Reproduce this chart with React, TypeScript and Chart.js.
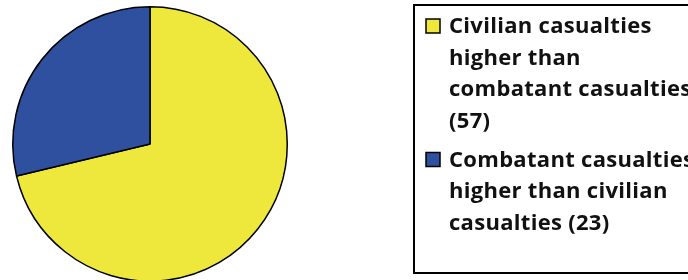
import React, { useEffect, useRef } from "react";
import { Chart, registerables } from "chart.js";

Chart.register(...registerables);

const categories: string[][] = [
  ["Civilian casualties", "higher than", "combatant casualties"],
  ["Combatant casualties", "higher than civilian", "casualties"],
];
const values: number[] = [57, 23];
const colors: string[] = ["#EEE83D", "#2E509F"];

const FONT = "700 22px 'Open Sans'";

const legendPlugin = {
  id: "boxLegend",
  afterDraw(chart: any) {
    const ctx = chart.ctx as CanvasRenderingContext2D;
    ctx.save();
    ctx.lineWidth = 2;
    ctx.strokeStyle = "#000";
    ctx.strokeRect(414, 5, 300, 268);
    ctx.font = FONT;
    (ctx as any).letterSpacing = "0.3px";
    ctx.fillStyle = "#111";
    ctx.textBaseline = "alphabetic";
    const labels = chart.data.labels as string[][];
    const data = chart.data.datasets[0].data as number[];
    const bg = chart.data.datasets[0].backgroundColor as string[];
    let y = 33;
    const lh = 31.5;
    labels.forEach((lines, i) => {
      const all = [...lines];
      const last = all[all.length - 1];
      const suffix = `(${data[i]})`;
      if (i === 0) all.push(suffix);
      else all[all.length - 1] = `${last} ${suffix}`;
      // marker
      ctx.fillStyle = bg[i];
      ctx.fillRect(426, y - 14, 14, 14);
      ctx.lineWidth = 1.5;
      ctx.strokeStyle = "#000";
      ctx.strokeRect(426, y - 14, 14, 14);
      ctx.fillStyle = "#111";
      all.forEach((t, j) => {
        ctx.fillText(t, 449, y + j * lh);
      });
      y += all.length * lh + 7.5;
    });
    ctx.restore();
  },
};

export default function App() {
  const ref = useRef<HTMLCanvasElement | null>(null);
  useEffect(() => {
    if (!ref.current) return;
    const chart = new Chart(ref.current, {
      type: "pie",
      data: {
        labels: categories as any,
        datasets: [
          {
            data: values,
            backgroundColor: colors,
            borderColor: "#000",
            borderWidth: 1.5,
          },
        ],
      },
      options: {
        animation: false,
        responsive: true,
        maintainAspectRatio: false,
        layout: { padding: { left: 12, top: 6, right: 400, bottom: 18 } },
        plugins: {
          legend: { display: false },
          tooltip: { enabled: false },
        },
      },
      plugins: [legendPlugin],
    });
    return () => chart.destroy();
  }, []);
  return (
    <div style={{ position: "fixed", left: 0, top: 0, width: 688, height: 280, overflow: "hidden", background: "#fff" }}>
      <div style={{ position: "relative", width: 688, height: 300 }}>
        <canvas ref={ref} />
      </div>
    </div>
  );
}
